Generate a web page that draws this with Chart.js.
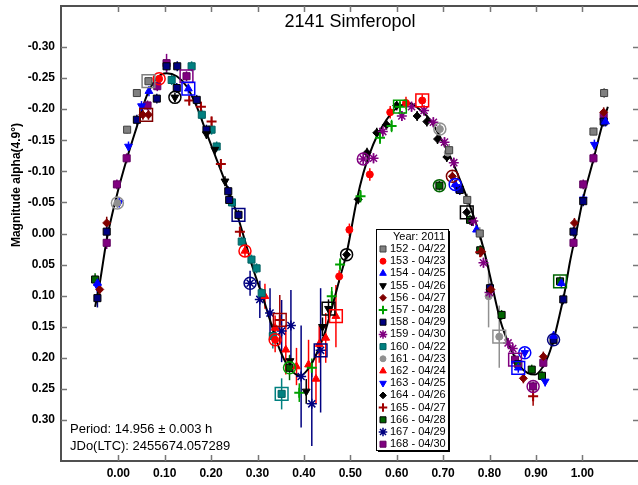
<!DOCTYPE html>
<html>
<head>
<meta charset="utf-8">
<script src="https://cdn.jsdelivr.net/npm/chart.js@4.4.1/dist/chart.umd.min.js"></script>
<style>
html, body { margin: 0; padding: 0; background: #fff; overflow: hidden; }
#wrap { width: 638px; height: 485px; }
</style>
</head>
<body>
<div id="wrap"><canvas id="lightcurve" width="638" height="485"></canvas></div>
<script>
/* ---- axis ticks ---- */
const PHASE_TICKS = [0.00, 0.10, 0.20, 0.30, 0.40, 0.50, 0.60, 0.70, 0.80, 0.90, 1.00];
const MAG_TICKS = [-0.30, -0.25, -0.20, -0.15, -0.10, -0.05, 0.00, 0.05, 0.10, 0.15, 0.20, 0.25, 0.30];

/* ---- sessions (legend) ---- */
const SESSIONS = ['152 - 04/22', '153 - 04/23', '154 - 04/25', '155 - 04/26', '156 - 04/27', '157 - 04/28',
                  '158 - 04/29', '159 - 04/30', '160 - 04/22', '161 - 04/23', '162 - 04/24', '163 - 04/25',
                  '164 - 04/26', '165 - 04/27', '166 - 04/28', '167 - 04/29', '168 - 04/30'];
const SESSION_COLORS = ['#808080', '#ff0000', '#0000ff', '#000000', '#800000', '#00a000', '#000080', '#800080', '#008080',
                        '#909090', '#ff0000', '#0000ff', '#000000', '#a00000', '#006400', '#000080', '#800080'];
const SESSION_EDGES = ['#404040', '#ff0000', '#0000ff', '#000000', '#800000', '#00a000', '#000000', '#800080', '#006060',
                       '#909090', '#ff0000', '#0000ff', '#000000', '#a00000', '#000000', '#000080', '#600060'];
const SESSION_MARKERS = ['rect', 'circle', 'triangle', 'triangleDown', 'rectRot', 'cross', 'rect', 'star', 'rect',
                         'circle', 'triangle', 'triangleDown', 'rectRot', 'cross', 'rect', 'star', 'rect'];

/* ---- observations: [phase, mag, err] ---- */
const s152 = [[0.019,-0.167,0.006],[0.040,-0.226,0.006],[0.065,-0.245,0.006],[0.713,-0.134,0.01],[0.752,-0.054,0.01],
              [0.779,0.000,0.01],[1.024,-0.164,0.006],[1.047,-0.226,0.008]];
const s153 = [[0.088,-0.249,0.006],[0.476,0.069,0.01],[0.498,-0.006,0.01],[0.542,-0.095,0.01],[0.586,-0.195,0.01],
              [0.655,-0.214,0.01],[0.338,0.171,0.02],[0.620,-0.210,0.01]];
const s154 = [[-0.045,0.080,0.01],[0.066,-0.229,0.008],[0.151,-0.233,0.008],[0.726,-0.079,0.008],[0.772,-0.006,0.008],
              [0.862,0.216,0.008],[0.938,0.165,0.008],[0.955,0.080,0.008],[1.050,-0.180,0.008]];
const s155 = [[0.122,-0.219,0.008],[0.190,-0.160,0.008],[0.208,-0.135,0.008],[0.230,-0.084,0.008],[0.370,0.205,0.01],
              [0.405,0.254,0.02],[0.453,0.121,0.015],[0.440,0.150,0.015]];
const s156 = [[-0.040,0.090,0.01],[-0.025,-0.017,0.01],[0.053,-0.191,0.008],[0.065,-0.191,0.008],[0.720,-0.092,0.008],
              [0.783,0.029,0.008],[0.803,0.090,0.008],[0.873,0.233,0.008],[0.916,0.198,0.008],[0.983,-0.017,0.008],
              [1.046,-0.195,0.008]];
const s157 = [[0.390,0.256,0.015],[0.417,0.216,0.015],[0.460,0.101,0.015],[0.478,0.050,0.01],[0.522,-0.060,0.01],
              [0.564,-0.154,0.01],[0.589,-0.173,0.01],[0.607,-0.204,0.01]];
const s158 = [[-0.045,0.104,0.015],[-0.025,-0.003,0.01],[0.040,-0.183,0.008],[0.083,-0.217,0.008],[0.104,-0.269,0.008],
              [0.127,-0.269,0.008],[0.126,-0.234,0.008],[0.169,-0.215,0.008],[0.190,-0.167,0.008],[0.237,-0.068,0.008],
              [0.239,-0.054,0.008],[0.259,-0.030,0.008],[0.736,-0.070,0.008],[0.801,0.088,0.008],[0.959,0.106,0.008],
              [0.981,-0.003,0.008],[1.002,-0.052,0.008],[1.046,-0.180,0.008],[0.938,0.171,0.008]];
const s159 = [[0.528,-0.120,0.008],[0.550,-0.121,0.008],[0.570,-0.164,0.008],[0.611,-0.189,0.008],[0.632,-0.204,0.008],
              [0.659,-0.198,0.008],[0.679,-0.179,0.008],[0.703,-0.147,0.008],[0.723,-0.114,0.008],[0.765,-0.020,0.008],
              [0.787,0.047,0.008],[0.800,0.095,0.008],[0.840,0.176,0.008],[0.850,0.185,0.008]];
const s160 = [[0.115,-0.247,0.008],[0.158,-0.269,0.008],[0.180,-0.191,0.008],[0.201,-0.167,0.008],[0.212,-0.140,0.008],
              [0.245,-0.050,0.008],[0.266,0.013,0.008],[0.287,0.042,0.008],[0.298,0.056,0.008],[0.309,0.096,0.008],
              [0.333,0.165,0.02],[0.352,0.258,0.025]];
const s161 = [[-0.002,-0.049,0.008],[0.693,-0.168,0.008],[0.798,0.101,0.05],[0.821,0.166,0.05],[0.710,-0.130,0.008]];
const s162 = [[0.273,0.028,0.01],[0.316,0.101,0.02],[0.338,0.152,0.02],[0.361,0.187,0.04],[0.384,0.214,0.03],
              [0.410,0.211,0.04],[0.426,0.234,0.04],[0.433,0.178,0.03],[0.447,0.168,0.04],[0.469,0.133,0.05]];
const s163 = [[-0.045,0.085,0.01],[0.002,-0.050,0.008],[0.022,-0.140,0.008],[0.050,-0.205,0.008],[0.876,0.192,0.008],
              [0.920,0.238,0.008],[1.002,-0.055,0.008],[1.026,-0.143,0.008],[0.728,-0.075,0.01]];
const s164 = [[0.492,0.034,0.008],[0.517,-0.055,0.008],[0.557,-0.162,0.008],[0.578,-0.175,0.008],[0.600,-0.206,0.008],
              [0.644,-0.189,0.008],[0.665,-0.180,0.008],[0.688,-0.152,0.008],[0.708,-0.123,0.008],[0.751,-0.034,0.008],
              [0.762,-0.020,0.008],[0.536,-0.130,0.008]];
const s165 = [[0.153,-0.214,0.008],[0.178,-0.204,0.008],[0.201,-0.180,0.008],[0.221,-0.112,0.008],[0.262,-0.003,0.008],
              [0.348,0.139,0.04],[0.780,0.030,0.008],[0.894,0.262,0.015]];
const s166 = [[-0.050,0.074,0.01],[0.692,-0.077,0.008],[0.758,-0.022,0.008],[0.780,0.027,0.008],[0.826,0.131,0.008],
              [0.862,0.210,0.008],[0.891,0.219,0.008],[0.913,0.229,0.008],[0.952,0.077,0.008],[0.369,0.216,0.02]];
const s167 = [[0.284,0.080,0.02],[0.305,0.106,0.03],[0.327,0.128,0.04],[0.352,0.157,0.05],[0.372,0.148,0.057],
              [0.394,0.230,0.082],[0.417,0.274,0.068],[0.436,0.188,0.10]];
const s168 = [[-0.025,0.015,0.01],[-0.003,-0.079,0.008],[0.018,-0.121,0.008],[0.063,-0.206,0.008],[0.084,-0.237,0.008],
              [0.104,-0.274,0.015],[0.147,-0.253,0.008],[0.855,0.203,0.008],[0.894,0.246,0.008],[0.916,0.208,0.008],
              [0.981,0.015,0.008],[1.002,-0.079,0.008],[1.024,-0.121,0.008],[1.046,-0.188,0.008]];
const SERIES = [s152, s153, s154, s155, s156, s157, s158, s159, s160, s161, s162, s163, s164, s165, s166, s167, s168];

/* ---- highlighted points: [session index, phase, mag] ---- */
const HL_SQUARES = [[0,0.065,-0.245],[4,0.060,-0.191],[16,0.147,-0.253],[2,0.151,-0.233],[6,0.259,-0.030],
                    [13,0.348,0.139],[8,0.352,0.258],[15,0.436,0.188],[3,0.453,0.121],[10,0.469,0.133],
                    [5,0.607,-0.204],[1,0.655,-0.214],[12,0.751,-0.034],[9,0.821,0.166],[16,0.855,0.203],
                    [2,0.862,0.216],[14,0.952,0.077]];
const HL_CIRCLES = [[1,0.088,-0.249],[3,0.122,-0.219],[9,-0.002,-0.049],[10,0.273,0.028],[15,0.284,0.080],
                    [1,0.338,0.171],[5,0.369,0.216],[12,0.492,0.034],[7,0.528,-0.120],[9,0.693,-0.168],
                    [14,0.692,-0.077],[4,0.720,-0.092],[2,0.726,-0.079],[11,0.876,0.192],[16,0.894,0.246],
                    [6,0.938,0.171]];

/* ---- fitted curve ---- */
const CURVE_PHASE = [-0.050,-0.040,-0.025,-0.003,0.018,0.040,0.061,0.083,0.104,0.126,0.147,0.169,0.190,0.212,0.234,
                     0.255,0.277,0.291,0.313,0.331,0.348,0.366,0.392,0.413,0.428,0.445,0.463,0.478,0.492,0.514,
                     0.528,0.542,0.557,0.578,0.600,0.629,0.650,0.672,0.693,0.715,0.736,0.758,0.780,0.794,0.801,
                     0.823,0.844,0.866,0.898,0.923,0.938,0.952,0.963,0.973,0.988,1.002,1.024,1.042,1.055];
const CURVE_MAG = [0.118,0.080,0.010,-0.062,-0.119,-0.172,-0.221,-0.250,-0.258,-0.253,-0.237,-0.204,-0.162,-0.119,-0.076,
                   -0.033,0.022,0.058,0.106,0.149,0.187,0.214,0.229,0.214,0.192,0.160,0.112,0.070,0.032,-0.054,
                   -0.097,-0.129,-0.156,-0.183,-0.202,-0.209,-0.199,-0.183,-0.156,-0.124,-0.087,-0.044,0.005,0.045,0.068,
                   0.139,0.182,0.214,0.227,0.203,0.171,0.128,0.090,0.047,-0.006,-0.057,-0.119,-0.172,-0.204];

const FONT = '"Liberation Sans", Arial, sans-serif';

function markerOpts(kind) {
    switch (kind) {
        case 'rect':         return { style: 'rect', radius: 5, rotation: 0, width: 1 };
        case 'circle':       return { style: 'circle', radius: 3.5, rotation: 0, width: 1 };
        case 'triangle':     return { style: 'triangle', radius: 4.5, rotation: 0, width: 1 };
        case 'triangleDown': return { style: 'triangle', radius: 4.5, rotation: 180, width: 1 };
        case 'rectRot':      return { style: 'rectRot', radius: 4, rotation: 0, width: 1 };
        case 'cross':        return { style: 'cross', radius: 5, rotation: 0, width: 2 };
        case 'star':         return { style: 'star', radius: 5, rotation: 0, width: 1.5 };
    }
}

// strip the automatic label padding so the plot box edges sit where the reference has them
function noPadding(s) {
    s.paddingTop = 0; s.paddingBottom = 0; s.paddingLeft = 0; s.paddingRight = 0;
}

/* ================================================================
   DATASETS
   ================================================================ */
const datasets = [];

SERIES.forEach((pts, i) => {
    const m = markerOpts(SESSION_MARKERS[i]);
    const lineMarker = m.style === 'cross' || m.style === 'star';
    datasets.push({
        type: 'scatter',
        label: SESSIONS[i],
        sessionIndex: i,
        data: pts.map(p => ({ x: p[0], y: p[1], err: p[2] })),
        pointStyle: m.style,
        pointRadius: m.radius,
        pointRotation: m.rotation,
        pointBorderWidth: m.width,
        pointBackgroundColor: SESSION_COLORS[i],
        pointBorderColor: lineMarker ? SESSION_COLORS[i] : SESSION_EDGES[i],
        backgroundColor: SESSION_COLORS[i],
        borderColor: lineMarker ? SESSION_COLORS[i] : SESSION_EDGES[i],
        order: 2
    });
});

datasets.push({
    type: 'scatter',
    label: 'hl-squares',
    data: HL_SQUARES.map(h => ({ x: h[1], y: h[2] })),
    pointStyle: 'rect',
    pointRadius: 9,
    pointBorderWidth: 1.5,
    pointBackgroundColor: 'rgba(0,0,0,0)',
    pointBorderColor: HL_SQUARES.map(h => SESSION_COLORS[h[0]]),
    order: 1
});
datasets.push({
    type: 'scatter',
    label: 'hl-circles',
    data: HL_CIRCLES.map(h => ({ x: h[1], y: h[2] })),
    pointStyle: 'circle',
    pointRadius: 6,
    pointBorderWidth: 1.5,
    pointBackgroundColor: 'rgba(0,0,0,0)',
    pointBorderColor: HL_CIRCLES.map(h => SESSION_COLORS[h[0]]),
    order: 1
});

datasets.push({
    type: 'line',
    label: 'fit',
    data: CURVE_PHASE.map((x, i) => ({ x: x, y: CURVE_MAG[i] })),
    borderColor: '#000',
    borderWidth: 2,
    pointRadius: 0,
    fill: false,
    cubicInterpolationMode: 'monotone',
    order: 3
});

/* ================================================================
   PLUGINS
   ================================================================ */
const errorBars = {
    id: 'errorBars',
    beforeDatasetsDraw(chart) {
        const ctx = chart.ctx;
        const ys = chart.scales.y;
        const area = chart.chartArea;
        ctx.save();
        ctx.beginPath();
        ctx.rect(area.left, area.top, area.right - area.left, area.bottom - area.top);
        ctx.clip();
        ctx.lineWidth = 1.5;
        chart.data.datasets.forEach((ds, i) => {
            if (ds.sessionIndex === undefined) return;
            const meta = chart.getDatasetMeta(i);
            ctx.strokeStyle = SESSION_COLORS[ds.sessionIndex];
            meta.data.forEach((el, j) => {
                const p = ds.data[j];
                ctx.beginPath();
                ctx.moveTo(el.x, ys.getPixelForValue(p.y - p.err));
                ctx.lineTo(el.x, ys.getPixelForValue(p.y + p.err));
                ctx.stroke();
            });
        });
        ctx.restore();
    }
};

const frame = {
    id: 'frame',
    afterDraw(chart) {
        const ctx = chart.ctx;
        const a = chart.chartArea;
        const xs = chart.scales.x, ys = chart.scales.y;
        ctx.save();

        // top border (the right border falls just outside the picture)
        ctx.strokeStyle = '#505050';
        ctx.lineWidth = 2;
        ctx.beginPath();
        ctx.moveTo(a.left, a.top); ctx.lineTo(a.right + 2, a.top);
        ctx.stroke();

        // inner tick marks
        ctx.strokeStyle = '#777';
        ctx.lineWidth = 1.5;
        PHASE_TICKS.forEach(v => {
            const px = Math.round(xs.getPixelForValue(v)) + 0.5;
            ctx.beginPath();
            ctx.moveTo(px, a.bottom); ctx.lineTo(px, a.bottom - 6);
            ctx.moveTo(px, a.top); ctx.lineTo(px, a.top + 6);
            ctx.stroke();
        });
        MAG_TICKS.forEach(v => {
            const py = Math.round(ys.getPixelForValue(v)) + 0.5;
            ctx.beginPath();
            ctx.moveTo(a.left, py); ctx.lineTo(a.left + 6, py);
            ctx.moveTo(a.right + 1, py); ctx.lineTo(a.right - 5, py);
            ctx.stroke();
        });

        // title
        ctx.fillStyle = '#000';
        ctx.font = '18px ' + FONT;
        ctx.textAlign = 'center';
        ctx.textBaseline = 'middle';
        ctx.fillText('2141 Simferopol', 350, 22);

        // y-axis title
        ctx.save();
        ctx.translate(17, 185);
        ctx.rotate(-Math.PI / 2);
        ctx.font = 'bold 12px ' + FONT;
        ctx.fillText('Magnitude alpha(4.9°)', 0, 0);
        ctx.restore();

        // period notes
        ctx.font = '13px ' + FONT;
        ctx.textAlign = 'left';
        ctx.fillText('Period: 14.956 ± 0.003 h', 70, 429);
        ctx.fillText('JDo(LTC): 2455674.057289', 70, 446);

        // legend box
        const lx = 376, ly = 229, lw = 72, lh = 221;
        ctx.fillStyle = '#000';
        ctx.fillRect(lx + 2, ly + 2, lw, lh);
        ctx.fillStyle = '#fff';
        ctx.fillRect(lx, ly, lw, lh);
        ctx.strokeStyle = '#000';
        ctx.lineWidth = 1;
        ctx.strokeRect(lx + 0.5, ly + 0.5, lw, lh);

        ctx.fillStyle = '#000';
        ctx.font = '11px ' + FONT;
        ctx.textAlign = 'right';
        ctx.fillText('Year: 2011', lx + lw - 3, ly + 8);
        ctx.textAlign = 'left';
        SESSIONS.forEach((name, i) => {
            const rowY = ly + 20 + i * 12.2;
            const m = markerOpts(SESSION_MARKERS[i]);
            ctx.fillStyle = SESSION_COLORS[i];
            ctx.strokeStyle = (m.style === 'cross' || m.style === 'star') ? SESSION_COLORS[i] : SESSION_EDGES[i];
            ctx.lineWidth = m.width;
            Chart.helpers.drawPoint(ctx, {
                pointStyle: m.style, radius: m.radius * 0.85, rotation: m.rotation, borderWidth: m.width
            }, lx + 7, rowY);
            ctx.fillStyle = '#000';
            ctx.fillText(name, lx + 14, rowY);
        });

        ctx.restore();
    }
};

/* ================================================================
   CHART
   ================================================================ */
new Chart(document.getElementById('lightcurve'), {
    data: { datasets },
    options: {
        responsive: false,
        animation: false,
        devicePixelRatio: 1,
        layout: { autoPadding: false, padding: { top: 6, right: 0, left: 0, bottom: 0 } },
        plugins: { legend: { display: false }, tooltip: { enabled: false } },
        scales: {
            x: {
                type: 'linear',
                min: -0.1235,
                max: 1.12,
                afterBuildTicks: s => { s.ticks = PHASE_TICKS.map(v => ({ value: v })); },
                afterFit: s => { s.height = 24; noPadding(s); },
                ticks: {
                    callback: v => Number(v).toFixed(2),
                    color: '#000',
                    font: { family: FONT, size: 12, weight: 'bold' },
                    padding: 5,
                    maxRotation: 0,
                    autoSkip: false
                },
                grid: { display: true, drawOnChartArea: false, drawTicks: false },
                border: { display: true, color: '#505050', width: 2 }
            },
            y: {
                type: 'linear',
                reverse: true,
                min: -0.366,
                max: 0.366,
                afterBuildTicks: s => { s.ticks = MAG_TICKS.map(v => ({ value: v })); },
                afterFit: s => { s.width = 61; noPadding(s); },
                ticks: {
                    callback: v => Number(v).toFixed(2),
                    color: '#000',
                    font: { family: FONT, size: 12, weight: 'bold' },
                    padding: 6,
                    autoSkip: false
                },
                grid: { display: true, drawOnChartArea: false, drawTicks: false },
                border: { display: true, color: '#505050', width: 2 }
            }
        }
    },
    plugins: [errorBars, frame]
});
</script>
</body>
</html>
